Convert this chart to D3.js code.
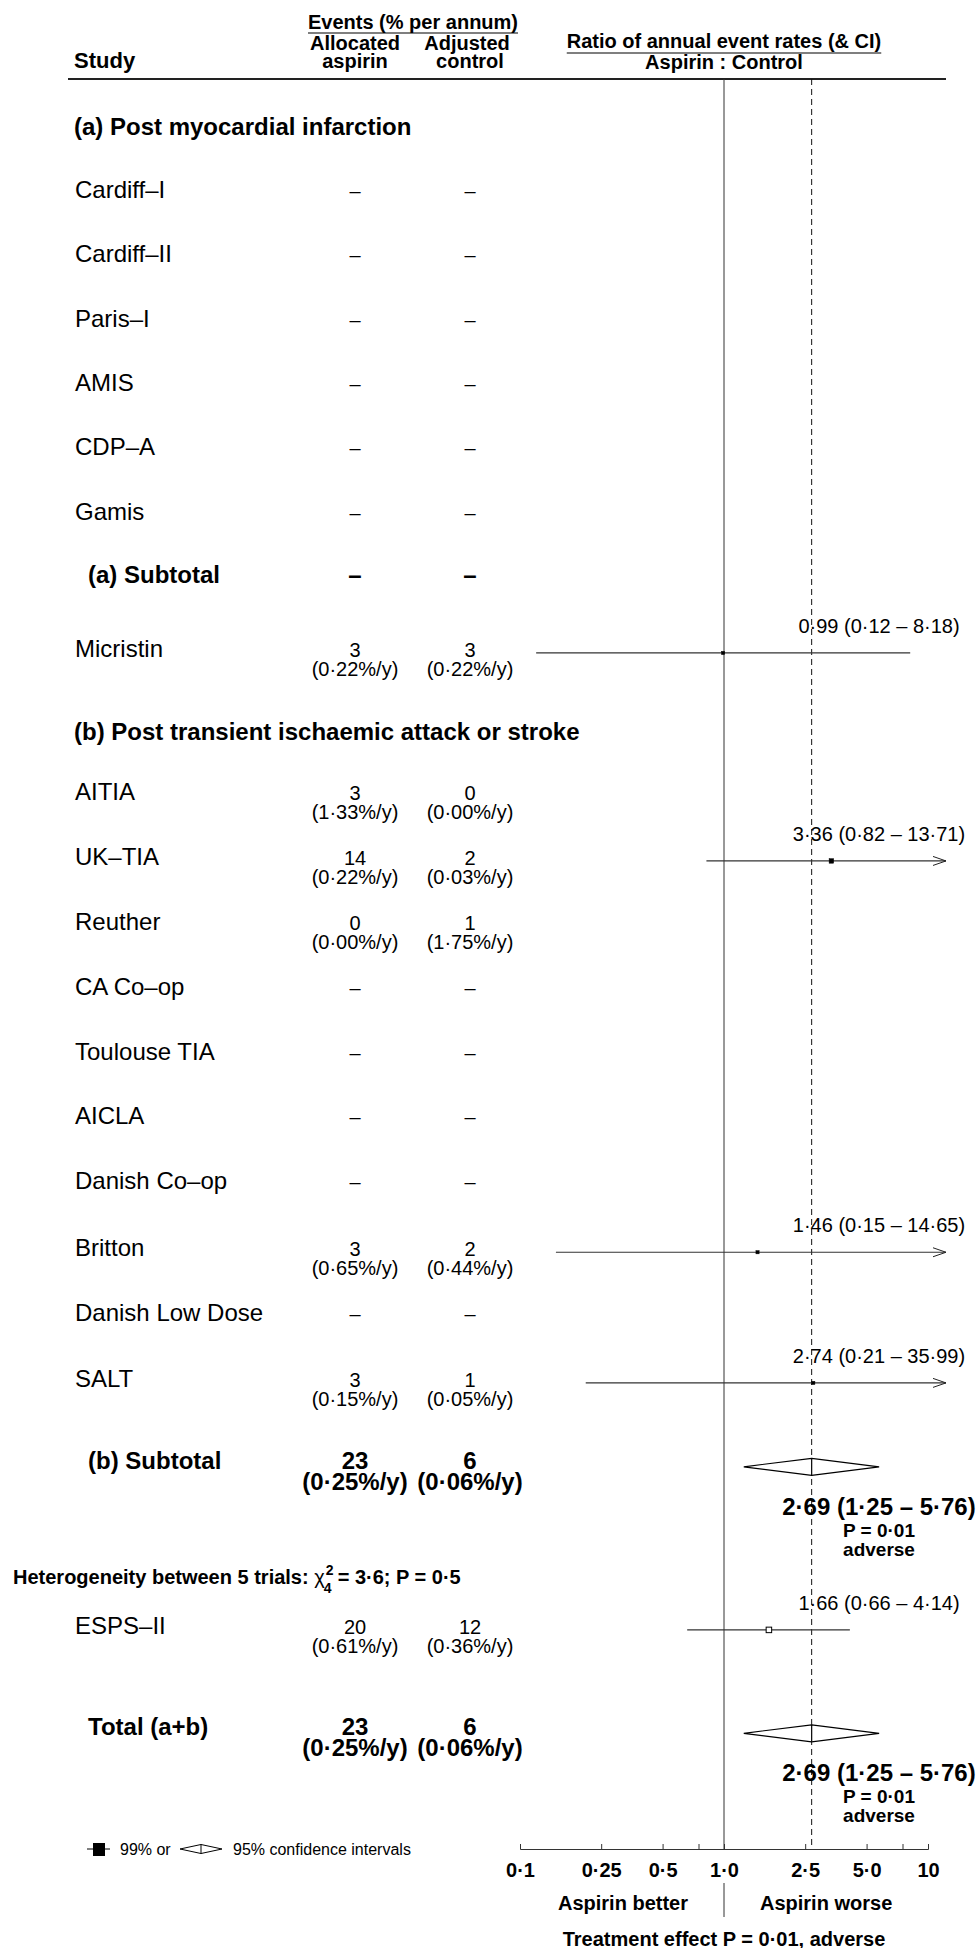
<!DOCTYPE html>
<html>
<head>
<meta charset="utf-8">
<script src="https://cdn.jsdelivr.net/npm/d3@7"></script>
<style>
  body { margin: 0; background: #fff; }
  text { font-family: "Liberation Sans", Arial, Helvetica, sans-serif; fill: #000; }
</style>
</head>
<body>
<svg id="chart" width="976" height="1948"></svg>
<script>
// ---- Rows of the table (one entry per printed row) ----
const rowKind = ["group","study","study","study","study","study","study","subtotal","study",
                 "group","study","study","study","study","study","study","study","study","study","study",
                 "subtotal","note","study","total"];
const rowText = ["(a) Post myocardial infarction","Cardiff–I","Cardiff–II","Paris–I","AMIS","CDP–A","Gamis",
                 "(a) Subtotal","Micristin","(b) Post transient ischaemic attack or stroke",
                 "AITIA","UK–TIA","Reuther","CA Co–op","Toulouse TIA","AICLA","Danish Co–op","Britton",
                 "Danish Low Dose","SALT","(b) Subtotal","Heterogeneity","ESPS–II","Total (a+b)"];

// Events and annual rates (null = not available, printed as a dash)
const aspirinEvents = [null,null,null,null,null,null,null,null,3,null,3,14,0,null,null,null,null,3,null,3,23,null,20,23];
const aspirinRate   = [null,null,null,null,null,null,null,null,0.22,null,1.33,0.22,0.00,null,null,null,null,0.65,null,0.15,0.25,null,0.61,0.25];
const controlEvents = [null,null,null,null,null,null,null,null,3,null,0,2,1,null,null,null,null,2,null,1,6,null,12,6];
const controlRate   = [null,null,null,null,null,null,null,null,0.22,null,0.00,0.03,1.75,null,null,null,null,0.44,null,0.05,0.06,null,0.36,0.06];

// Ratio of annual event rates with confidence limits
const ratio  = [null,null,null,null,null,null,null,null,0.99,null,null,3.36,null,null,null,null,null,1.46,null,2.74,2.69,null,1.66,2.69];
const ciLow  = [null,null,null,null,null,null,null,null,0.12,null,null,0.82,null,null,null,null,null,0.15,null,0.21,1.25,null,0.66,1.25];
const ciHigh = [null,null,null,null,null,null,null,null,8.18,null,null,13.71,null,null,null,null,null,14.65,null,35.99,5.76,null,4.14,5.76];
// Relative weight of each trial (box size) and whether the box is drawn open
const boxWeight = [0,0,0,0,0,0,0,0,1,0,0,2,0,0,0,0,0,1,0,1,0,0,3,0];
const boxOpen   = [false,false,false,false,false,false,false,false,false,false,false,false,false,false,false,false,false,false,false,false,false,false,true,false];

// Summary statistics
const summaryP = 0.01;
const summaryDirection = "adverse";
const overallRatio = 2.69;
const hetTrials = 5, hetDf = 4, hetChi2 = 3.6, hetP = 0.5;

// Axis
const tickValues = [0.1, 0.25, 0.5, 0.75, 1, 2.5, 5, 7.5, 10];
const tickLabels = ["0·1", "0·25", "0·5", "", "1·0", "2·5", "5·0", "", "10"];

// Vertical placement of rows (in row units)
const rowSlot = [0, 0.97, 1.96, 2.95, 3.94, 4.93, 5.92, 6.89, 8.03, 9.31, 10.23, 11.23, 12.23,
                 13.23, 14.23, 15.22, 16.22, 17.25, 18.25, 19.26, 20.52, 22.29, 23.06, 24.62];

// ---- Layout ----
const svg = d3.select("#chart");
const FONT = '"Liberation Sans", Arial, Helvetica, sans-serif';
const dot = s => s.replace(".", "·");
const f2 = v => dot(d3.format(".2f")(v));

const x = d3.scaleLog().domain([0.1, 10]).range([520, 928]);
const y = d3.scaleLinear().domain([0, 1]).range([135, 200]);   // baseline of each row
const box = d3.scaleSqrt().domain([0, 3]).range([0, 5.5]);

const headerLineY = 79, axisY = 1849, plotRight = 946;
const colAsp = 355, colCtl = 470, nameX = 75, subX = 88, labelX = 879;
const maxRatio = x.invert(plotRight);

// ---- Header ----
function underlined(txt, cx, by, uy) {
  const t = svg.append("text").attr("x", cx).attr("y", by).attr("text-anchor", "middle")
    .style("font-size", "20px").style("font-weight", "bold").text(txt);
  const w = t.node().getComputedTextLength();
  svg.append("line").attr("x1", cx - w / 2).attr("x2", cx + w / 2).attr("y1", uy).attr("y2", uy)
    .attr("stroke", "#000").attr("stroke-width", 1.2);
}
svg.append("text").attr("x", 74).attr("y", 68).style("font-size", "22px").style("font-weight", "bold").text("Study");
underlined("Events (% per annum)", 413, 29, 33);
svg.append("text").attr("x", colAsp).attr("y", 50).attr("text-anchor", "middle")
  .style("font-size", "20px").style("font-weight", "bold")
  .call(t => {
    t.append("tspan").attr("x", colAsp).text("Allocated");
    t.append("tspan").attr("x", colAsp).attr("dy", 18).text("aspirin");
  });
svg.append("text").attr("x", 468).attr("y", 50).attr("text-anchor", "middle")
  .style("font-size", "20px").style("font-weight", "bold")
  .call(t => {
    t.append("tspan").attr("x", 467).text("Adjusted");
    t.append("tspan").attr("x", colCtl).attr("dy", 18).text("control");
  });
underlined("Ratio of annual event rates (& CI)", x(1), 48, 53);
svg.append("text").attr("x", x(1)).attr("y", 69).attr("text-anchor", "middle")
  .style("font-size", "20px").style("font-weight", "bold").text("Aspirin : Control");
svg.append("line").attr("x1", 68).attr("x2", plotRight).attr("y1", headerLineY).attr("y2", headerLineY)
  .attr("stroke", "#222").attr("stroke-width", 2);

// ---- Reference lines ----
svg.append("line").attr("x1", x(1)).attr("x2", x(1)).attr("y1", headerLineY).attr("y2", axisY)
  .attr("stroke", "#333").attr("stroke-width", 1);
svg.append("line").attr("x1", x(overallRatio)).attr("x2", x(overallRatio)).attr("y1", headerLineY).attr("y2", axisY)
  .attr("stroke", "#111").attr("stroke-width", 1).attr("stroke-dasharray", "6,4");

// ---- Rows ----
const rows = rowKind.map((k, i) => ({
  kind: k, text: rowText[i], base: y(rowSlot[i]),
  ae: aspirinEvents[i], ar: aspirinRate[i], ce: controlEvents[i], cr: controlRate[i],
  r: ratio[i], lo: ciLow[i], hi: ciHigh[i], w: boxWeight[i], open: boxOpen[i]
}));

// Event count with its annual rate underneath, as one two-line text
function valueCell(cx, by, ev, rate, bold) {
  const t = svg.append("text").attr("x", cx).attr("y", by).attr("text-anchor", "middle")
    .style("font-size", (bold ? 24 : 20) + "px").style("font-weight", bold ? "bold" : "normal");
  if (ev == null) {
    t.text("–");
  } else {
    t.append("tspan").attr("x", cx).text(ev);
    t.append("tspan").attr("x", cx).attr("dy", bold ? 21 : 19).text("(" + f2(rate) + "%/y)");
  }
}

rows.forEach(d => {
  if (d.kind === "group") {
    svg.append("text").attr("x", 74).attr("y", d.base).style("font-size", "24px").style("font-weight", "bold").text(d.text);
    return;
  }
  if (d.kind === "note") return;
  const bold = d.kind !== "study";
  svg.append("text").attr("x", bold ? subX : nameX).attr("y", d.base)
    .style("font-size", "24px").style("font-weight", bold ? "bold" : "normal").text(d.text);
  valueCell(colAsp, d.base, d.ae, d.ar, bold);
  valueCell(colCtl, d.base, d.ce, d.cr, bold);

  if (d.r == null) return;
  if (d.kind === "study") {
    const ly = d.base - 4;
    const arrow = d.hi > maxRatio;
    const xEnd = arrow ? plotRight : x(d.hi);
    svg.append("line").attr("x1", x(d.lo)).attr("x2", xEnd).attr("y1", ly).attr("y2", ly)
      .attr("stroke", "#333").attr("stroke-width", 1.2);
    if (arrow) {
      svg.append("path").attr("d", `M${xEnd - 13},${ly - 4.5}L${xEnd},${ly}L${xEnd - 13},${ly + 4.5}`)
        .attr("fill", "none").attr("stroke", "#222").attr("stroke-width", 1);
    }
    const s = box(d.w);
    svg.append("rect").attr("x", x(d.r) - s / 2).attr("y", ly - s / 2).attr("width", s).attr("height", s)
      .attr("fill", d.open ? "#fff" : "#000").attr("stroke", "#000").attr("stroke-width", d.open ? 1 : 0.5);
    svg.append("text").attr("x", labelX).attr("y", ly - 20).attr("text-anchor", "middle")
      .style("font-size", "20px").text(`${f2(d.r)} (${f2(d.lo)} – ${f2(d.hi)})`);
  } else {
    const cy = d.base - 2, h = 8.5;
    svg.append("path")
      .attr("d", `M${x(d.lo)},${cy}L${x(d.r)},${cy - h}L${x(d.hi)},${cy}L${x(d.r)},${cy + h}Z`)
      .attr("fill", "#fff").attr("stroke", "#000").attr("stroke-width", 1.2);
    svg.append("line").attr("x1", x(d.r)).attr("x2", x(d.r)).attr("y1", cy - h).attr("y2", cy + h)
      .attr("stroke", "#000").attr("stroke-width", 1.2);
    svg.append("text").attr("x", labelX).attr("y", cy + 48).attr("text-anchor", "middle")
      .style("font-weight", "bold")
      .call(t => {
        t.append("tspan").attr("x", labelX).style("font-size", "24px").text(`${f2(d.r)} (${f2(d.lo)} – ${f2(d.hi)})`);
        t.append("tspan").attr("x", labelX).attr("dy", 22).style("font-size", "19px").text("P = " + f2(summaryP));
        t.append("tspan").attr("x", labelX).attr("dy", 19).style("font-size", "19px").text(summaryDirection);
      });
  }
});

// ---- Heterogeneity line ----
const hetRow = rows[rowKind.indexOf("note")];
const het = svg.append("text").attr("x", 13).attr("y", hetRow.base)
  .style("font-size", "20px").style("font-weight", "bold");
het.append("tspan").text(`Heterogeneity between ${hetTrials} trials: `);
het.append("tspan").style("font-weight", "normal").text("χ");
const hetEnd = 13 + het.node().getComputedTextLength();
het.append("tspan").attr("x", hetEnd + 1).attr("dy", -9).style("font-size", "14px").text("2");
het.append("tspan").attr("x", hetEnd - 1).attr("dy", 18).style("font-size", "14px").text(hetDf);
het.append("tspan").attr("x", hetEnd + 13).attr("dy", -9)
  .text(`= ${dot(String(hetChi2))}; P = ${dot(String(hetP))}`);

// ---- Axis ----
const axis = d3.axisBottom(x).tickValues(tickValues)
  .tickFormat((v, i) => tickLabels[i]).tickSizeInner(-5).tickSizeOuter(-5);
const gAxis = svg.append("g").attr("transform", `translate(0,${axisY})`).call(axis);
gAxis.select(".domain").attr("stroke", "#333");
gAxis.selectAll(".tick line").attr("stroke", "#333");
gAxis.selectAll(".tick text").attr("y", 28).attr("dy", null)
  .style("font-family", FONT).style("font-size", "20px").style("font-weight", "bold").attr("fill", "#000");

svg.append("text").attr("x", x(1) - 36).attr("y", 1910).attr("text-anchor", "end")
  .style("font-size", "20px").style("font-weight", "bold").text("Aspirin better");
svg.append("text").attr("x", x(1) + 36).attr("y", 1910).attr("text-anchor", "start")
  .style("font-size", "20px").style("font-weight", "bold").text("Aspirin worse");
svg.append("line").attr("x1", x(1)).attr("x2", x(1)).attr("y1", 1883).attr("y2", 1917)
  .attr("stroke", "#333").attr("stroke-width", 1);
svg.append("text").attr("x", x(1)).attr("y", 1946).attr("text-anchor", "middle")
  .style("font-size", "20px").style("font-weight", "bold")
  .text(`Treatment effect P = ${f2(summaryP)}, ${summaryDirection}`);

// ---- Legend ----
const lgY = axisY;
svg.append("line").attr("x1", 87).attr("x2", 110).attr("y1", lgY).attr("y2", lgY).attr("stroke", "#000");
svg.append("rect").attr("x", 93).attr("y", lgY - 6).attr("width", 12).attr("height", 13).attr("fill", "#000");
svg.append("text").attr("x", 120).attr("y", lgY + 6).style("font-size", "16px").text("99% or");
svg.append("path").attr("d", `M180,${lgY}L201,${lgY - 4.5}L222,${lgY}L201,${lgY + 4.5}Z`)
  .attr("fill", "#fff").attr("stroke", "#000").attr("stroke-width", 1);
svg.append("line").attr("x1", 201).attr("x2", 201).attr("y1", lgY - 4.5).attr("y2", lgY + 4.5).attr("stroke", "#000");
svg.append("text").attr("x", 233).attr("y", lgY + 6).style("font-size", "16px").text("95% confidence intervals");
</script>
</body>
</html>
